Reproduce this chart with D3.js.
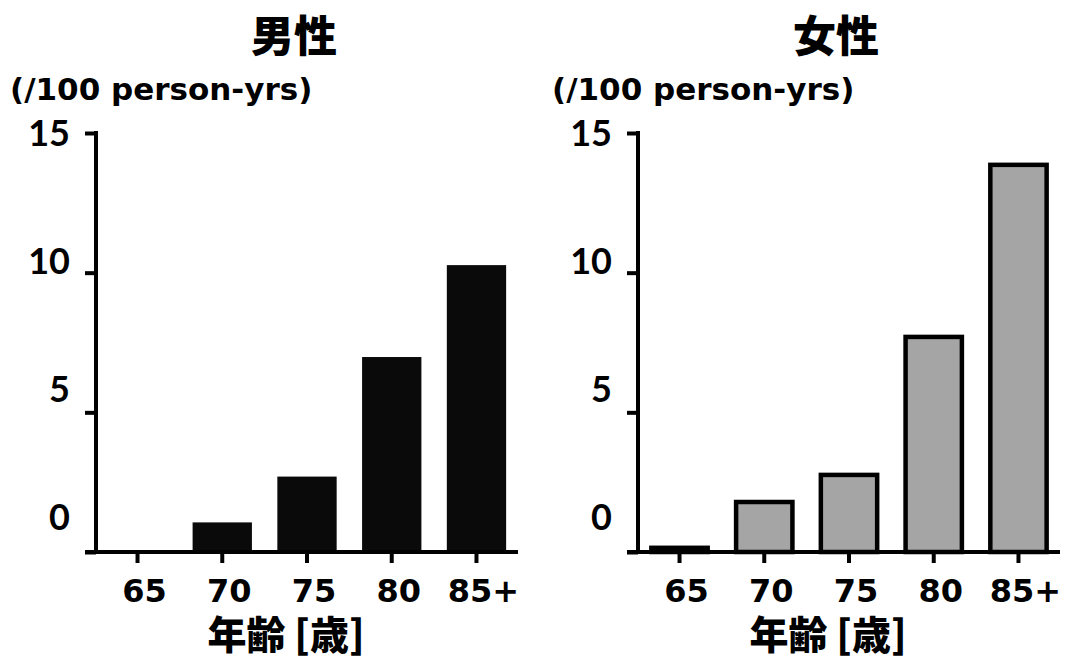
<!DOCTYPE html>
<html>
<head>
<meta charset="utf-8">
<script src="https://cdn.jsdelivr.net/npm/d3@7"></script>
<style>
  body { margin: 0; background: #fff; }
  text { font-family: "DejaVu Sans", "Noto Sans CJK JP", sans-serif; font-weight: 700; fill: #000; }
  .y-label { font-family: Lato, sans-serif; }
  .cjk { font-family: "Noto Sans CJK JP", sans-serif; font-weight: 900; }
</style>
</head>
<body>
<svg id="svg1" width="1066" height="659"></svg>
<script>
const svg1 = d3.select('#svg1');

const ageGroups = ['65', '70', '75', '80', '85+'];
const maleRates = [0, 1.06, 2.7, 6.98, 10.27];
const femaleRates = [0.15, 1.79, 2.76, 7.7, 13.86];
const yTicks = [0, 5, 10, 15];
const panelTitles = ['男性', '女性'];
const yAxisLabel = '(/100 person-yrs)';
const xAxisLabel = '年齢 [歳]';

const render = (values, title, left, style) => {
  const plotWidth = 422;
  const yBase = 552;
  const yTop = 133;

  const xScale = d3.scaleBand()
    .domain(ageGroups)
    .range([0, plotWidth])
    .paddingInner(0.3)
    .paddingOuter(0.14);

  const yScale = d3.scaleLinear()
    .domain([0, 15])
    .range([yBase, yTop]);

  // the printed tick labels sit a little off their ticks
  const labelScale = d3.scaleLinear()
    .domain([0, 15])
    .range([517, 133]);

  const g = svg1.append('g')
    .attr('transform', `translate(${left},0)`);

  g.selectAll('.bar').data(values)
    .enter().append('rect')
    .attr('class', 'bar')
    .attr('x', (d, i) => xScale(ageGroups[i]) + style.inset)
    .attr('width', xScale.bandwidth() - 2 * style.inset)
    .attr('y', d => yScale(d))
    .attr('height', d => yBase - yScale(d))
    .attr('fill', style.fill)
    .attr('stroke', style.stroke)
    .attr('stroke-width', style.strokeWidth);

  const yAxis = d3.axisLeft(yScale)
    .tickValues(yTicks)
    .tickSize(11)
    .tickFormat('');

  const yAxisG = g.append('g').call(yAxis);
  yAxisG.select('.domain')
    .attr('d', `M0,${yTop - 2}V${yBase}`);
  yAxisG.selectAll('path, line')
    .attr('stroke', '#000')
    .attr('stroke-width', 4);

  g.selectAll('.y-label').data(yTicks)
    .enter().append('text')
    .attr('class', 'y-label')
    .attr('x', -26)
    .attr('y', d => labelScale(d))
    .attr('dy', '0.36em')
    .attr('text-anchor', 'end')
    .attr('font-size', 36)
    .text(d => d);

  const xAxis = d3.axisBottom(xScale)
    .tickSize(11)
    .tickSizeOuter(0)
    .tickPadding(16);

  const xAxisG = g.append('g').call(xAxis)
    .attr('transform', `translate(0,${yBase})`);
  xAxisG.select('.domain')
    .attr('d', `M-11,0H${plotWidth}`);
  xAxisG.selectAll('path, line')
    .attr('stroke', '#000')
    .attr('stroke-width', 4);
  xAxisG.selectAll('text')
    .attr('font-size', 32)
    .attr('dx', 7)
    .attr('dy', '0.72em')
    .attr('font-family', '"DejaVu Sans", sans-serif')
    .attr('font-weight', 700)
    .attr('fill', '#000');

  g.append('text')
    .attr('class', 'cjk')
    .attr('x', 198)
    .attr('y', 52)
    .attr('text-anchor', 'middle')
    .attr('font-size', 43)
    .text(title);

  g.append('text')
    .attr('x', -86)
    .attr('y', 100)
    .attr('font-size', 31)
    .text(yAxisLabel);

  g.append('text')
    .attr('class', 'cjk')
    .attr('x', 190)
    .attr('y', 649)
    .attr('text-anchor', 'middle')
    .attr('font-size', 39)
    .text(xAxisLabel);
};

render(maleRates, panelTitles[0], 96,
  { fill: '#0a0a0a', stroke: 'none', strokeWidth: 0, inset: 0 });
render(femaleRates, panelTitles[1], 638,
  { fill: '#a5a5a5', stroke: '#000', strokeWidth: 4.5, inset: 1.5 });
</script>
</body>
</html>
